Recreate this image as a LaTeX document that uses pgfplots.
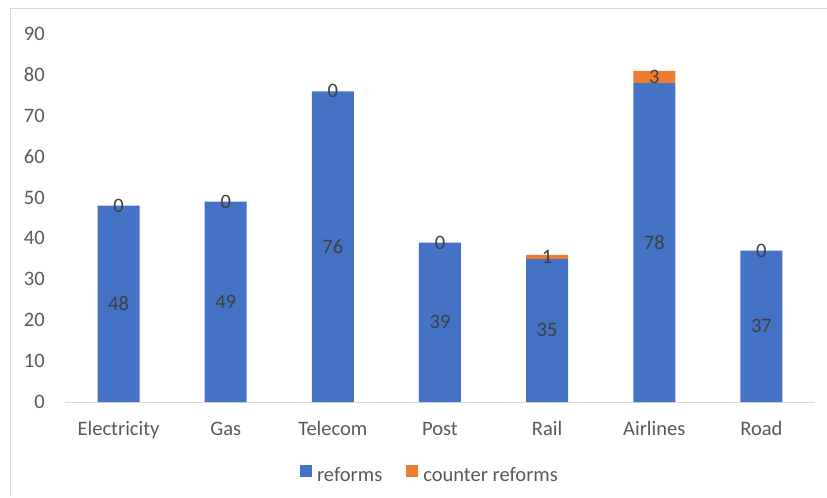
\documentclass[border=0pt]{standalone}
\usepackage{pgfplots}
\pgfplotsset{compat=1.18}
\usepackage{pgfplotstable}
\usepackage{fontspec}
\setmainfont{Carlito}
\definecolor{blueb}{HTML}{4472C4}
\definecolor{orangeb}{HTML}{ED7D31}
\definecolor{tickc}{HTML}{595959}
\definecolor{labc}{HTML}{404040}
\definecolor{framec}{HTML}{D9D9D9}
\pgfplotstableread{
x reforms counter
0 48 0
1 49 0
2 76 0
3 39 0
4 35 1
5 78 3
6 37 0
}\data
\begin{document}
\fontsize{15.4}{18}\selectfont
\begin{tikzpicture}
\useasboundingbox (-48.75pt,-71.25pt) rectangle (571.5pt,301.5pt);
\draw[framec, line width=0.75pt] (-40.5pt,-71.25pt) -- (-40.5pt,294.75pt) -- (571.5pt,294.75pt);
\begin{axis}[
  at={(0,0)}, anchor=south west,
  scale only axis, width=562.5pt, height=276pt,
  ybar stacked, bar width=31.5pt,
  xmin=-0.5, xmax=6.5, ymin=0, ymax=90,
  xtick=data, xticklabels={Electricity,Gas,Telecom,Post,Rail,Airlines,Road},
  ytick={0,10,...,90},
  axis x line*=bottom, axis y line*=left,
  axis line style={-},
  x axis line style={draw=framec, line width=0.75pt},
  y axis line style={draw=none},
  major tick length=0pt, tick style={draw=none},
  /pgf/number format/assume math mode=true,
  yticklabel style={anchor=base east, inner sep=0pt, xshift=-15pt, yshift=-4.9pt, text=tickc},
  xticklabel style={anchor=base, inner sep=0pt, yshift=-24.75pt, text=tickc},
  legend columns=-1,
  legend style={at={(0.4853,-0.197)}, anchor=center, draw=none, fill=none,
     text=tickc, column sep=3.75pt,
     /tikz/every even column/.append style={column sep=18pt},
     nodes={inner sep=0pt}},
  legend image code/.code={\fill[#1] (0pt,-0.5pt) rectangle (9pt,8.5pt);},
]
\addplot[fill=blueb, draw=none] table[x=x, y=reforms] {\data};
\addlegendentry{reforms}
\addplot[fill=orangeb, draw=none] table[x=x, y=counter] {\data};
\addlegendentry{counter reforms}
\end{axis}
\begin{axis}[
  at={(0,0)}, anchor=south west,
  scale only axis, width=562.5pt, height=276pt,
  xmin=-0.5, xmax=6.5, ymin=0, ymax=90,
  hide axis,
  /pgf/number format/assume math mode=true,
  nodes near coords, point meta=explicit,
  every node near coord/.style={text=labc, anchor=base, inner sep=0pt, yshift=-4.9pt},
]
\addplot[draw=none, mark=none] table[x=x, y expr=\thisrow{reforms}/2, meta=reforms] {\data};
\addplot[draw=none, mark=none] table[x=x, y expr=\thisrow{reforms}+\thisrow{counter}/2, meta=counter] {\data};
\end{axis}
\end{tikzpicture}
\end{document}
